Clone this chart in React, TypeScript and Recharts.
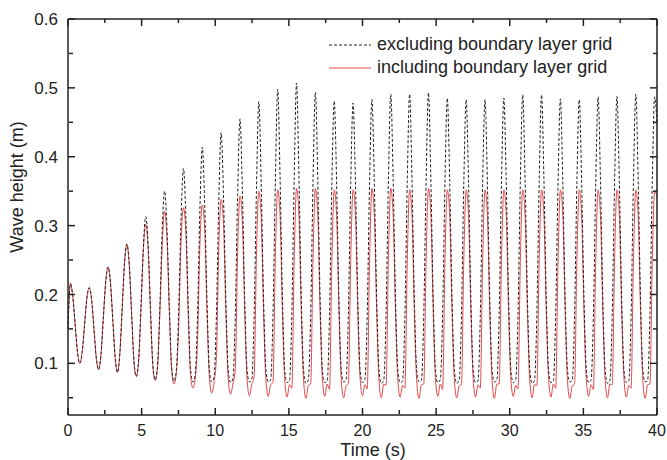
import { LineChart, Line, XAxis, YAxis } from 'recharts'

// sampled every 0.16 s, one row per wave period (1.28 s) starting at the crest
const SAMPLE_STEP = 0.16

const EXCLUDING = [
  0.150,
  0.215, 0.198, 0.158, 0.117, 0.100, 0.116, 0.155, 0.194,
  0.210, 0.193, 0.151, 0.108, 0.091, 0.113, 0.166, 0.218,
  0.240, 0.218, 0.164, 0.109, 0.087, 0.114, 0.180, 0.246,
  0.273, 0.243, 0.172, 0.103, 0.081, 0.106, 0.185, 0.270,
  0.313, 0.274, 0.180, 0.099, 0.076, 0.097, 0.183, 0.295,
  0.350, 0.296, 0.185, 0.094, 0.074, 0.090, 0.178, 0.312,
  0.383, 0.315, 0.188, 0.092, 0.073, 0.084, 0.172, 0.325,
  0.414, 0.332, 0.190, 0.091, 0.073, 0.080, 0.170, 0.335,
  0.435, 0.343, 0.192, 0.090, 0.072, 0.078, 0.169, 0.345,
  0.455, 0.352, 0.194, 0.090, 0.073, 0.077, 0.168, 0.354,
  0.480, 0.362, 0.195, 0.090, 0.073, 0.076, 0.168, 0.362,
  0.498, 0.372, 0.197, 0.089, 0.072, 0.075, 0.170, 0.366,
  0.507, 0.375, 0.196, 0.090, 0.071, 0.076, 0.169, 0.364,
  0.494, 0.370, 0.195, 0.089, 0.072, 0.074, 0.168, 0.362,
  0.481, 0.365, 0.194, 0.090, 0.073, 0.075, 0.170, 0.361,
  0.478, 0.364, 0.195, 0.089, 0.072, 0.076, 0.169, 0.363,
  0.483, 0.366, 0.196, 0.090, 0.071, 0.075, 0.170, 0.365,
  0.491, 0.369, 0.195, 0.089, 0.072, 0.074, 0.168, 0.364,
  0.491, 0.368, 0.194, 0.090, 0.073, 0.075, 0.169, 0.365,
  0.493, 0.370, 0.196, 0.089, 0.072, 0.076, 0.170, 0.363,
  0.485, 0.366, 0.195, 0.090, 0.071, 0.075, 0.168, 0.362,
  0.483, 0.365, 0.194, 0.089, 0.072, 0.074, 0.169, 0.363,
  0.483, 0.365, 0.195, 0.090, 0.073, 0.075, 0.170, 0.364,
  0.485, 0.366, 0.196, 0.089, 0.072, 0.076, 0.168, 0.365,
  0.490, 0.368, 0.195, 0.090, 0.071, 0.075, 0.169, 0.364,
  0.490, 0.368, 0.194, 0.089, 0.072, 0.074, 0.170, 0.362,
  0.484, 0.365, 0.195, 0.090, 0.073, 0.075, 0.168, 0.362,
  0.483, 0.365, 0.196, 0.089, 0.072, 0.076, 0.169, 0.363,
  0.487, 0.367, 0.195, 0.090, 0.071, 0.075, 0.170, 0.364,
  0.488, 0.367, 0.194, 0.089, 0.072, 0.074, 0.168, 0.365,
  0.491, 0.369, 0.195, 0.090, 0.073, 0.075, 0.169, 0.364,
  0.487, 0.450,
]

const INCLUDING = [
  0.150,
  0.217, 0.198, 0.158, 0.117, 0.100, 0.116, 0.155, 0.194,
  0.210, 0.193, 0.151, 0.108, 0.091, 0.113, 0.166, 0.218,
  0.240, 0.218, 0.164, 0.109, 0.087, 0.114, 0.180, 0.246,
  0.273, 0.243, 0.172, 0.103, 0.081, 0.104, 0.180, 0.265,
  0.302, 0.266, 0.176, 0.097, 0.075, 0.094, 0.172, 0.272,
  0.321, 0.282, 0.175, 0.090, 0.070, 0.087, 0.155, 0.278,
  0.326, 0.292, 0.174, 0.084, 0.064, 0.078, 0.135, 0.273,
  0.330, 0.297, 0.174, 0.080, 0.057, 0.072, 0.110, 0.268,
  0.338, 0.302, 0.175, 0.078, 0.055, 0.070, 0.092, 0.263,
  0.343, 0.307, 0.176, 0.077, 0.053, 0.069, 0.082, 0.258,
  0.350, 0.312, 0.176, 0.076, 0.052, 0.069, 0.072, 0.254,
  0.352, 0.316, 0.176, 0.076, 0.051, 0.069, 0.064, 0.250,
  0.354, 0.317, 0.177, 0.075, 0.049, 0.068, 0.070, 0.252,
  0.354, 0.316, 0.175, 0.076, 0.052, 0.070, 0.062, 0.248,
  0.352, 0.315, 0.176, 0.075, 0.050, 0.067, 0.071, 0.251,
  0.352, 0.316, 0.175, 0.077, 0.053, 0.069, 0.063, 0.250,
  0.354, 0.317, 0.177, 0.075, 0.050, 0.070, 0.068, 0.252,
  0.354, 0.316, 0.176, 0.076, 0.051, 0.068, 0.064, 0.249,
  0.352, 0.315, 0.175, 0.075, 0.049, 0.069, 0.070, 0.251,
  0.354, 0.317, 0.176, 0.076, 0.052, 0.070, 0.062, 0.250,
  0.352, 0.316, 0.175, 0.075, 0.050, 0.067, 0.069, 0.252,
  0.352, 0.315, 0.176, 0.077, 0.051, 0.069, 0.064, 0.249,
  0.352, 0.316, 0.177, 0.075, 0.049, 0.070, 0.070, 0.251,
  0.352, 0.317, 0.175, 0.076, 0.052, 0.068, 0.063, 0.250,
  0.352, 0.315, 0.176, 0.075, 0.050, 0.069, 0.068, 0.252,
  0.352, 0.316, 0.175, 0.077, 0.051, 0.070, 0.064, 0.249,
  0.352, 0.317, 0.177, 0.075, 0.049, 0.067, 0.070, 0.251,
  0.352, 0.315, 0.176, 0.076, 0.052, 0.069, 0.062, 0.250,
  0.352, 0.316, 0.175, 0.075, 0.050, 0.070, 0.069, 0.252,
  0.352, 0.317, 0.176, 0.077, 0.051, 0.068, 0.064, 0.249,
  0.352, 0.315, 0.177, 0.075, 0.049, 0.069, 0.070, 0.251,
  0.350, 0.342,
]

const X_TICKS = [0, 5, 10, 15, 20, 25, 30, 35, 40]
const X_MINOR = [2.5, 7.5, 12.5, 17.5, 22.5, 27.5, 32.5, 37.5]
const Y_TICKS = [0.1, 0.2, 0.3, 0.4, 0.5, 0.6]
const Y_MINOR = [0.05, 0.15, 0.25, 0.35, 0.45, 0.55]

const X_DOMAIN = [0, 40]
const Y_DOMAIN = [0.025, 0.6]

const FONT = '"Liberation Sans", Arial, sans-serif'
const AXIS = '#222'
const RED = '#e4484a'

// plot box (chart margins + axis sizes), shared with the frame overlay
const PLOT = { left: 68, top: 19, right: 657, bottom: 415 }

const data = EXCLUDING.map((v, i) => ({
  t: Number((i * SAMPLE_STEP).toFixed(2)),
  excluding: v,
  including: INCLUDING[i],
}))

const line = { stroke: AXIS, strokeWidth: 1.5 }
const noLabel = () => ''

// invisible copy of a series so the tick-only axes get a scale
const ghost = (xId: string, yId: string) => (
  <Line xAxisId={xId} yAxisId={yId} dataKey="excluding" stroke="none" dot={false}
    activeDot={false} isAnimationActive={false} />
)

const px = (t: number) => PLOT.left + ((t - X_DOMAIN[0]) / (X_DOMAIN[1] - X_DOMAIN[0])) * (PLOT.right - PLOT.left)
const py = (v: number) => PLOT.top + ((Y_DOMAIN[1] - v) / (Y_DOMAIN[1] - Y_DOMAIN[0])) * (PLOT.bottom - PLOT.top)

// top and right edges of the box with inward ticks
function Frame() {
  const s = { stroke: AXIS, strokeWidth: 1.5 }
  return (
    <svg width={667} height={460} style={{ position: 'absolute', left: 0, top: 0, pointerEvents: 'none', zIndex: 2 }}>
      <line {...s} x1={PLOT.left} x2={PLOT.right} y1={PLOT.top} y2={PLOT.top} />
      <line {...s} x1={PLOT.right} x2={PLOT.right} y1={PLOT.top} y2={PLOT.bottom} />
      {X_TICKS.map((t) => <line {...s} key={`a${t}`} x1={px(t)} x2={px(t)} y1={PLOT.top} y2={PLOT.top + 7} />)}
      {X_MINOR.map((t) => <line {...s} key={`b${t}`} x1={px(t)} x2={px(t)} y1={PLOT.top} y2={PLOT.top + 4} />)}
      {Y_TICKS.map((v) => <line {...s} key={`c${v}`} x1={PLOT.right} x2={PLOT.right - 7} y1={py(v)} y2={py(v)} />)}
      {Y_MINOR.map((v) => <line {...s} key={`d${v}`} x1={PLOT.right} x2={PLOT.right - 4} y1={py(v)} y2={py(v)} />)}
    </svg>
  )
}

export default function App() {
  return (
    <div style={{ position: 'absolute', left: 0, top: 0, width: 667, height: 460, background: '#fff', fontFamily: FONT }}>
      <LineChart
        width={667}
        height={460}
        data={data}
        margin={{ top: PLOT.top, right: 667 - PLOT.right, bottom: 15, left: 8 }}
        style={{ fontFamily: FONT }}
      >
        {/* left / bottom tick marks: mirrored so they point inwards */}
        <XAxis xAxisId="bMaj" dataKey="t" type="number" domain={X_DOMAIN} ticks={X_TICKS} interval={0}
          orientation="bottom" mirror height={1} tickFormatter={noLabel} tickSize={7} axisLine={false} tickLine={line} />
        <XAxis xAxisId="bMin" dataKey="t" type="number" domain={X_DOMAIN} ticks={X_MINOR} interval={0}
          orientation="bottom" mirror height={1} tickFormatter={noLabel} tickSize={4} axisLine={false} tickLine={line} />
        <YAxis yAxisId="lMaj" type="number" domain={Y_DOMAIN} ticks={Y_TICKS} interval={0}
          orientation="left" mirror width={1} tickFormatter={noLabel} tickSize={7} axisLine={false} tickLine={line} />
        <YAxis yAxisId="lMin" type="number" domain={Y_DOMAIN} ticks={Y_MINOR} interval={0}
          orientation="left" mirror width={1} tickFormatter={noLabel} tickSize={4} axisLine={false} tickLine={line} />

        <XAxis
          xAxisId="x"
          dataKey="t"
          type="number"
          domain={X_DOMAIN}
          ticks={X_TICKS}
          interval={0}
          height={30}
          tickSize={0}
          tickMargin={10}
          tickLine={false}
          axisLine={line}
          tick={{ fontSize: 16, fill: AXIS, fontFamily: FONT }}
          label={() => (
            <text x={373} y={450} textAnchor="middle" dominantBaseline="central"
              fontSize={18} fill={AXIS} fontFamily={FONT}>
              Time (s)
            </text>
          )}
        />
        <YAxis
          yAxisId="y"
          type="number"
          domain={Y_DOMAIN}
          ticks={Y_TICKS}
          interval={0}
          width={60}
          tickSize={0}
          tickMargin={10}
          tickLine={false}
          axisLine={line}
          tickFormatter={(v: number) => v.toFixed(1)}
          tick={{ fontSize: 17, fill: AXIS, fontFamily: FONT }}
          label={() => (
            <text x={17} y={187} transform="rotate(-90 17 187)" textAnchor="middle"
              dominantBaseline="central" fontSize={18} fill={AXIS} fontFamily={FONT}>
              Wave height (m)
            </text>
          )}
        />

        {ghost('bMaj', 'lMaj')}
        {ghost('bMin', 'lMin')}

        <Line xAxisId="x" yAxisId="y" type="monotone" dataKey="including" stroke={RED}
          strokeWidth={1} dot={false} isAnimationActive={false} />
        <Line xAxisId="x" yAxisId="y" type="monotone" dataKey="excluding" stroke="#222"
          strokeWidth={1} strokeDasharray="3 2" dot={false} isAnimationActive={false} />
      </LineChart>

      <Frame />

      <div style={{ position: 'absolute', left: 329, top: 33, fontSize: 18, color: AXIS, lineHeight: '23px', zIndex: 3 }}>
        <div style={{ display: 'flex', alignItems: 'center' }}>
          <svg width={42} height={23}><line x1={0} x2={42} y1={12} y2={12} stroke="#222" strokeDasharray="3 2" /></svg>
          <span style={{ marginLeft: 6 }}>excluding boundary layer grid</span>
        </div>
        <div style={{ display: 'flex', alignItems: 'center' }}>
          <svg width={42} height={23}><line x1={0} x2={42} y1={12} y2={12} stroke={RED} /></svg>
          <span style={{ marginLeft: 6 }}>including boundary layer grid</span>
        </div>
      </div>
    </div>
  )
}
